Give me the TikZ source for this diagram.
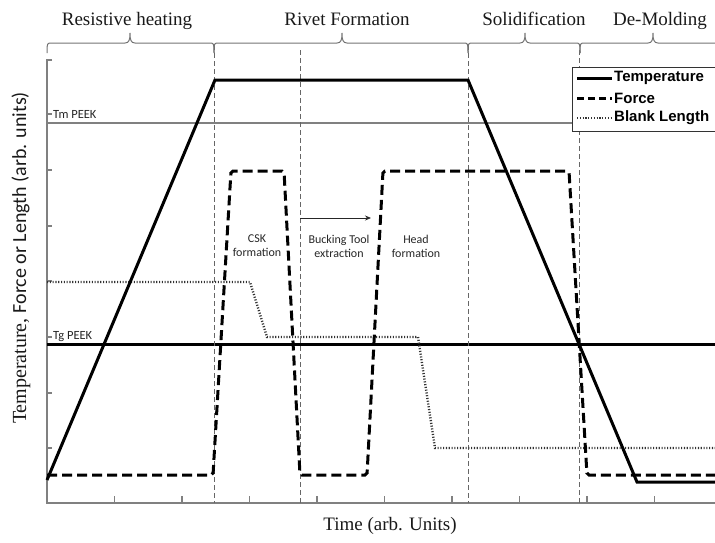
\documentclass[tikz,border=0pt]{standalone}
\usepackage{fontspec}
\setmainfont{Liberation Serif}
\newfontfamily\calibrifont{Carlito}
\newfontfamily\legendfont{Liberation Sans}
\usetikzlibrary{arrows.meta}
\usetikzlibrary{calc}

\tikzset{
  tempcurve/.style={line width=3pt, black},
  forcecurve/.style={line width=3pt, black, dash pattern=on 10pt off 5pt, rounded corners=2pt},
  blankcurve/.style={line width=2.4pt, black!80, dash pattern=on 1.1pt off 1.7pt},
  phasesep/.style={line width=0.8pt, black!60, dash pattern=on 5pt off 3pt},
  phasebrace/.style={line width=1pt, black!55},
  axisline/.style={line width=1.5pt, black!50},
  phasetitle/.style={font=\fontsize{19}{22}\selectfont, anchor=base, text=black!90},
  stepnote/.style={font=\calibrifont\fontsize{12}{14}\selectfont, align=center, inner sep=0pt, text=black!85},
  peeklabel/.style={font=\calibrifont\fontsize{12.5}{14}\selectfont, anchor=west, inner sep=1pt, text=black!85},
  legendentry/.style={font=\legendfont\bfseries\fontsize{15}{17}\selectfont, anchor=west, inner sep=0pt},
}

\begin{document}
\begin{tikzpicture}[x=1pt, y=-1pt]
      \useasboundingbox (0,0) rectangle (715,542);

      \draw[axisline] (52,60) -- (47,60) -- (47,503) -- (715,503);
      \draw[axisline] (47,114) -- (52,114) (47,170) -- (52,170) (47,226) -- (52,226) (47,281) -- (52,281)
                      (47,337) -- (52,337) (47,393) -- (52,393) (47,448) -- (52,448);
      \draw[axisline] (114.5,503) -- (114.5,496) (182,503) -- (182,496) (249.5,503) -- (249.5,496)
                      (317,503) -- (317,496) (384.5,503) -- (384.5,496) (452,503) -- (452,496)
                      (519.5,503) -- (519.5,496) (587,503) -- (587,496) (654.5,503) -- (654.5,496);

      \draw[black!50, line width=1.2pt] (47,123) -- (715,123);
      \draw[black, line width=3pt] (47,344) -- (715,344);
      \node[peeklabel] (tmpeek) at (52,114) {Tm PEEK};
      \node[peeklabel] (tgpeek) at (52,337) {Tg PEEK};

      \draw[phasesep] (214,45) -- (214,503);
      \draw[phasesep] (300,50) -- (300,503);
      \draw[phasesep] (468,45) -- (468,503);
      \draw[phasesep] (579,50) -- (579,503);

      \draw[phasebrace] (47,53) .. controls (47,43) .. (52,43) -- (125,43)
            .. controls (129,43) and (130,40) .. (130,33) .. controls (130,40) and (131,43) .. (135,43)
            -- (209,43) .. controls (214,43) .. (214,53);
      \draw[phasebrace] (214,53) .. controls (214,43) .. (219,43) -- (337,43)
            .. controls (341,43) and (342,40) .. (342,33) .. controls (342,40) and (343,43) .. (347,43)
            -- (463,43) .. controls (468,43) .. (468,53);
      \draw[phasebrace] (468,53) .. controls (468,43) .. (473,43) -- (520,43)
            .. controls (524,43) and (525,40) .. (525,33) .. controls (525,40) and (526,43) .. (530,43)
            -- (575,43) .. controls (580,43) .. (580,53);
      \draw[phasebrace] (580,53) .. controls (580,43) .. (585,43) -- (648,43)
            .. controls (652,43) and (653,40) .. (653,33) .. controls (653,40) and (654,43) .. (658,43)
            -- (721,43) .. controls (726,43) .. (726,53);

      \node[phasetitle] (heating) at (127,25) {Resistive heating};
      \node[phasetitle] (rivet) at (347,25) {Rivet Formation};
      \node[phasetitle] (solid) at (534,25) {Solidification};
      \node[phasetitle] (demold) at (660,25) {De-Molding};

      \draw[blankcurve] (47,282) -- (250,282) -- (267,337) -- (418,337) -- (435,448) -- (715,448);
      \draw[forcecurve] (47,475) -- (213,475) -- (231,171) -- (284,171) -- (300,475) -- (367,475)
            -- (383,171) -- (569,171) -- (587,475) -- (715,475);
      \draw[tempcurve] (47,480) -- (215,80) -- (468,80) -- (637,482) -- (715,482);

      \node[stepnote] (csk) at (257,246) {CSK\\formation};
      \node[stepnote] (bucking) at (339,246) {Bucking Tool\\extraction};
      \node[stepnote] (headform) at (416,246) {Head\\formation};
      \coordinate (toolstart) at (300,218);
      \coordinate (toolend) at (371,218);
      \draw[-{Stealth[length=6pt, width=5pt]}, line width=0.8pt, black!85] (toolstart) -- (toolend);

      \draw[black!80, fill=white, line width=1pt] (572,67) rectangle (717,131);
      \draw[tempcurve] (577,78) -- (612,78);
      \draw[forcecurve, dash pattern=on 7pt off 4pt] (577,98) -- (612,98);
      \draw[blankcurve] (577,118) -- (612,118);
      \node[legendentry] (legtemp) at (614,78) {Temperature};
      \node[legendentry] (legforce) at (614,98) {Force};
      \node[legendentry] (legblank) at (614,118) {Blank Length};

      \node[phasetitle] (timelabel) at (390,530) {Time (arb. Units)};
      \node[rotate=90, font=\fontsize{20}{24}\selectfont, text=black!90] (ylabel) at (21,258)
            {Temperature, {\calibrifont Force or Length (arb. units)}};
    \end{tikzpicture}
\end{document}
